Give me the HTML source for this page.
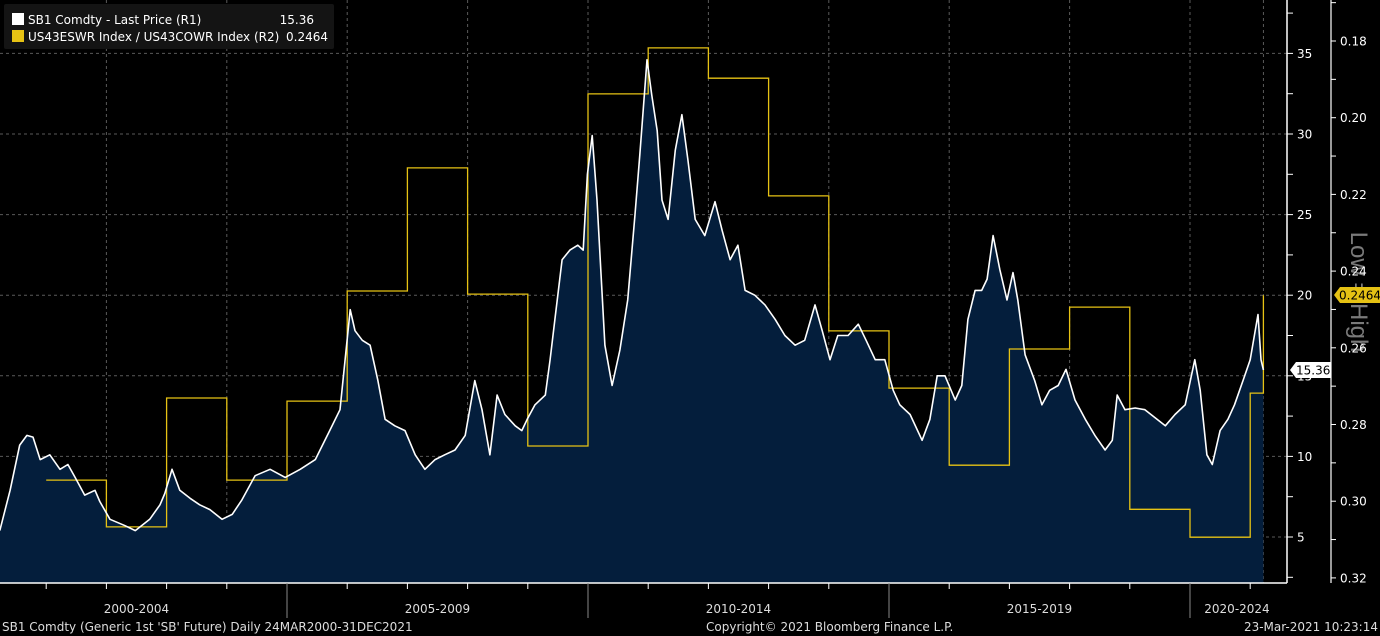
<!DOCTYPE html>
<html><head><meta charset="utf-8">
<style>
body{margin:0;background:#000;}
svg{display:block;font-family:"DejaVu Sans","Liberation Sans",sans-serif;}
</style></head>
<body>
<svg id="chart" width="1380" height="636" viewBox="0 0 1380 636" xmlns="http://www.w3.org/2000/svg">
<rect width="1380" height="636" fill="#000"/>
<text transform="translate(1351,292) rotate(90)" fill="#7a7a7a" font-size="24" text-anchor="middle" font-family="Liberation Sans, sans-serif">Low = High</text>
<g id="grid"></g>
<g id="series"></g>
<g id="axes"></g>
<g>
<rect x="4" y="4" width="330" height="45" rx="2" fill="#141414"/>
<rect x="12" y="13" width="12" height="12" fill="#fff"/>
<text x="28" y="24" fill="#fff" font-size="12">SB1 Comdty - Last Price (R1)</text>
<text x="314" y="24" fill="#fff" font-size="12" text-anchor="end">15.36</text>
<rect x="12" y="30" width="12" height="12" fill="#e6c214"/>
<text x="28" y="41" fill="#fff" font-size="12">US43ESWR Index / US43COWR Index (R2)</text>
<text x="328" y="41" fill="#fff" font-size="12" text-anchor="end">0.2464</text>
</g>
<text x="2" y="631" fill="#ddd" font-size="12">SB1 Comdty (Generic 1st 'SB' Future)  Daily 24MAR2000-31DEC2021</text>
<text x="706" y="631" fill="#ddd" font-size="12">Copyright© 2021 Bloomberg Finance L.P.</text>
<text x="1378" y="631" fill="#ddd" font-size="12" text-anchor="end">23-Mar-2021 10:23:14</text>
</svg>
<script>
const priceDates=[2000.23,2000.40,2000.56,2000.68,2000.78,2000.90,2001.06,2001.23,2001.36,2001.48,2001.64,2001.81,2001.89,2002.06,2002.31,2002.48,2002.72,2002.89,2002.97,2003.09,2003.22,2003.39,2003.55,2003.72,2003.92,2004.09,2004.25,2004.47,2004.72,2004.97,2005.22,2005.47,2005.71,2005.88,2006.05,2006.13,2006.25,2006.38,2006.51,2006.63,2006.79,2006.96,2007.13,2007.29,2007.46,2007.62,2007.79,2007.96,2008.12,2008.24,2008.37,2008.49,2008.62,2008.79,2008.90,2008.99,2009.12,2009.29,2009.37,2009.45,2009.57,2009.70,2009.83,2009.92,2009.99,2010.07,2010.15,2010.28,2010.40,2010.53,2010.66,2010.78,2010.86,2010.98,2011.06,2011.15,2011.23,2011.33,2011.45,2011.56,2011.66,2011.78,2011.94,2012.11,2012.23,2012.36,2012.49,2012.61,2012.77,2012.94,2013.11,2013.27,2013.44,2013.60,2013.77,2013.89,2014.02,2014.15,2014.32,2014.49,2014.62,2014.77,2014.93,2015.07,2015.18,2015.35,2015.55,2015.68,2015.80,2015.93,2016.10,2016.21,2016.31,2016.43,2016.54,2016.63,2016.73,2016.84,2016.96,2017.06,2017.14,2017.26,2017.42,2017.54,2017.67,2017.81,2017.94,2018.09,2018.26,2018.42,2018.59,2018.71,2018.79,2018.92,2019.09,2019.25,2019.42,2019.59,2019.75,2019.92,2020.08,2020.17,2020.28,2020.37,2020.50,2020.63,2020.74,2020.88,2021.00,2021.13,2021.18,2021.22];
const priceValues=[5.4,7.9,10.7,11.3,11.2,9.8,10.1,9.2,9.5,8.7,7.6,7.9,7.2,6.1,5.7,5.4,6.1,7.0,7.7,9.2,7.9,7.4,7.0,6.7,6.1,6.4,7.3,8.8,9.2,8.7,9.2,9.8,11.6,12.9,19.1,17.8,17.2,16.9,14.7,12.3,11.9,11.6,10.1,9.2,9.8,10.1,10.4,11.3,14.7,12.9,10.1,13.8,12.6,11.9,11.6,12.3,13.2,13.8,16.0,18.5,22.2,22.8,23.1,22.8,27.5,29.9,25.9,16.9,14.4,16.6,19.7,25.0,28.7,34.6,32.4,30.2,25.9,24.7,29.0,31.2,28.4,24.7,23.7,25.8,24.0,22.2,23.1,20.3,20.0,19.4,18.5,17.5,16.9,17.2,19.4,17.8,16.0,17.5,17.5,18.2,17.2,16.0,16.0,14.1,13.2,12.6,11.0,12.3,15.0,15.0,13.5,14.4,18.5,20.3,20.3,21.0,23.7,21.6,19.7,21.4,19.7,16.3,14.7,13.2,14.1,14.4,15.4,13.5,12.3,11.3,10.4,11.0,13.8,12.9,13.0,12.9,12.4,11.9,12.6,13.2,16.0,14.1,10.1,9.5,11.6,12.3,13.2,14.7,16.0,18.8,16.0,15.36];
const ratioYears=[2001,2002,2003,2004,2005,2006,2007,2008,2009,2010,2011,2012,2013,2014,2015,2016,2017,2018,2019,2020,2021];
const ratioValues=[0.2945,0.3067,0.2731,0.2945,0.2739,0.2452,0.2131,0.2460,0.2856,0.1938,0.1818,0.1897,0.2204,0.2556,0.2705,0.2906,0.2603,0.2494,0.3021,0.3094,0.2718];
const ratioEnd=2021.22;
const r1Ticks=[5,10,15,20,25,30,35];
const r2Ticks=[0.18,0.20,0.22,0.24,0.26,0.28,0.30,0.32];
const periodLabels=["2000-2004","2005-2009","2010-2014","2015-2019","2020-2024"];
const periodStarts=[2000,2005,2010,2015,2020];

const NS="http://www.w3.org/2000/svg";
const X=y=>-14+(y-2000)*60.2;
const Y1=v=>537-(v-5)*16.12;
const Y2=v=>41+(v-0.18)/0.02*76.7;
const PR=1287, PB=583;
function mk(tag,attrs,parent){const e=document.createElementNS(NS,tag);for(const k in attrs)e.setAttribute(k,attrs[k]);parent.appendChild(e);return e;}
const grid=document.getElementById('grid'),series=document.getElementById('series'),axes=document.getElementById('axes');

r1Ticks.forEach(v=>{const l=mk('line',{x1:0,x2:PR,y1:Y1(v),y2:Y1(v),stroke:'#5a5a5a','stroke-dasharray':'3,3'},grid);

});
for(let yr=2002;yr<=2020;yr+=2){const l=mk('line',{x1:X(yr),x2:X(yr),y1:0,y2:PB,stroke:'#5a5a5a','stroke-dasharray':'3,3'},grid);

}
const ve=mk('line',{x1:X(ratioEnd),x2:X(ratioEnd),y1:0,y2:PB,stroke:'#5a5a5a','stroke-dasharray':'3,3'},grid);



let pts=priceDates.map((d,i)=>X(d).toFixed(1)+','+Y1(priceValues[i]).toFixed(1));
const area=mk('path',{d:'M'+X(priceDates[0]).toFixed(1)+','+PB+' L'+pts.join(' L')+' L'+X(priceDates[priceDates.length-1]).toFixed(1)+','+PB+' Z',fill:'#041e3c'},series);



let sd='';
ratioYears.forEach((yr,i)=>{const x0=X(yr),x1=i<ratioYears.length-1?X(ratioYears[i+1]):X(ratioEnd),y=Y2(ratioValues[i]);sd+=(i?' L':'M')+x0.toFixed(1)+','+y.toFixed(1)+' L'+x1.toFixed(1)+','+y.toFixed(1);});
sd+=' L'+X(ratioEnd).toFixed(1)+','+Y1(20).toFixed(1);
const step=mk('path',{d:sd,fill:'none',stroke:'#e6c214','stroke-width':1.3},series);



const line=mk('polyline',{points:pts.join(' '),fill:'none',stroke:'#fff','stroke-width':1.6,'stroke-linejoin':'round'},series);



const xa=mk('line',{x1:0,x2:PR,y1:PB,y2:PB,stroke:'#fff','stroke-width':1.5},axes);


const ya=mk('line',{x1:PR,x2:PR,y1:0,y2:PB,stroke:'#fff','stroke-width':1.5},axes);


for(let yr=2001;yr<=2021;yr++){const big=yr%5===0;const t=mk('line',{x1:X(yr),x2:X(yr),y1:PB,y2:big?618:589,stroke:big?'#888':'#fff'},axes);

}
periodLabels.forEach((s,i)=>{const t=mk('text',{x:Math.min(X(periodStarts[i]+2.5),1237),y:613,fill:'#ddd','font-size':12,'text-anchor':'middle'},axes);t.textContent=s;

});
for(let v=2.5;v<=37.5;v+=2.5){const t=mk('line',{x1:PR,x2:PR+6,y1:Y1(v),y2:Y1(v),stroke:'#fff'},axes);

}
r1Ticks.forEach(v=>{const t=mk('text',{x:1297,y:Y1(v)+4.5,fill:'#fff','font-size':12},axes);t.textContent=v;

});
const r2=mk('line',{x1:1331,x2:1331,y1:0,y2:PB,stroke:'#fff','stroke-width':1.2},axes);


for(let v=0.17;v<=0.325;v+=0.01){const t=mk('line',{x1:1331,x2:1336,y1:Y2(v),y2:Y2(v),stroke:'#fff'},axes);

}
r2Ticks.forEach(v=>{const t=mk('text',{x:1340,y:Y2(v)+4.5,fill:'#fff','font-size':12},axes);t.textContent=v.toFixed(2);

});
const lp=priceValues[priceValues.length-1],ly=Y1(lp);
const pb=mk('path',{d:`M1290,${ly} L1296,${ly-8} L1331,${ly-8} L1331,${ly+8} L1296,${ly+8} Z`,fill:'#fff'},axes);


const pt=mk('text',{x:1296,y:ly+4.5,fill:'#000','font-size':12},axes);pt.textContent=lp.toFixed(2);


const rv=0.2464,ry=295;
const rb=mk('path',{d:`M1334,${ry} L1340,${ry-8} L1380,${ry-8} L1380,${ry+8} L1340,${ry+8} Z`,fill:'#e6c214'},axes);


const rt=mk('text',{x:1339,y:ry+4.5,fill:'#000','font-size':12},axes);rt.textContent=rv.toFixed(4);


</script>
</body></html>
